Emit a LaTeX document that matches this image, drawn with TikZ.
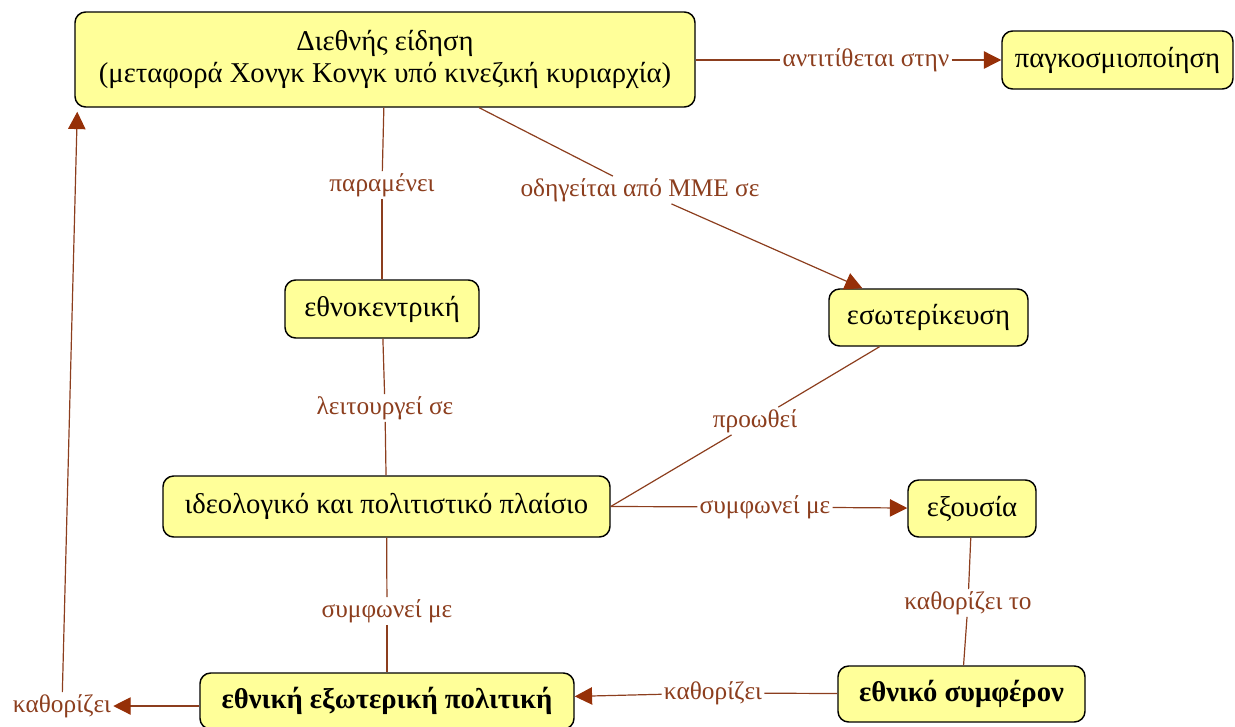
\documentclass[tikz,border=0pt]{standalone}
\usepackage{fontspec}
\setmainfont{Liberation Serif}
\usetikzlibrary{arrows.meta,calc}
\definecolor{boxfill}{RGB}{255,255,153}
\definecolor{linkc}{RGB}{140,62,30}
\definecolor{arrowc}{RGB}{150,48,8}
\tikzset{
  concept/.style={draw=black, line width=1.1pt, fill=boxfill, rounded corners=8pt,
    font=\fontsize{21.5}{23.5}\selectfont, align=center, inner sep=0pt},
  boldconcept/.style={concept, font=\fontsize{21.5}{23.5}\selectfont\bfseries},
  linklabel/.style={text=linkc, font=\fontsize{19}{21}\selectfont, inner sep=1.5pt},
  conn/.style={draw=linkc, line width=0.9pt},
  arr/.style={conn, -{Triangle[length=13pt,width=13pt,fill=arrowc,color=arrowc]}},
}
\begin{document}
\begin{tikzpicture}[x=0.75pt,y=-0.75pt]
\useasboundingbox (0,0) rectangle (1235,726);
% concepts
\node[concept, minimum width=465pt, minimum height=71.25pt] (N1) at (385,59.5) {Διεθνής είδηση\\(μεταφορά Χονγκ Κονγκ υπό κινεζική κυριαρχία)};
\node[concept, minimum width=173.25pt, minimum height=43.5pt] (N2) at (1117.5,60) {παγκοσμιοποίηση};
\node[concept, minimum width=145.5pt, minimum height=43.5pt] (N3) at (382,309) {εθνοκεντρική};
\node[concept, minimum width=149.25pt, minimum height=42.75pt] (N4) at (928.5,317.5) {εσωτερίκευση};
\node[concept, minimum width=335.25pt, minimum height=45.75pt] (N5) at (386.5,506.5) {ιδεολογικό και πολιτιστικό πλαίσιο};
\node[concept, minimum width=96pt, minimum height=42.75pt] (N6) at (972,508.5) {εξουσία};
\node[boldconcept, minimum width=280.5pt, minimum height=42pt] (N7) at (387,701) {εθνική εξωτερική πολιτική};
\node[boldconcept, minimum width=185.25pt, minimum height=42pt] (N8) at (961.5,694) {εθνικό συμφέρον};
% linking phrases
\node[linklabel] (L1) at (866,60) {αντιτίθεται στην};
\node[linklabel] (L2) at (382,185) {παραμένει};
\node[linklabel] (L3) at (640,190) {οδηγείται από ΜΜΕ σε};
\node[linklabel] (L4) at (385,408) {λειτουργεί σε};
\node[linklabel] (L5) at (755,421) {προωθεί};
\node[linklabel] (L6) at (765,507) {συμφωνεί με};
\node[linklabel] (L7) at (968,603) {καθορίζει το};
\node[linklabel] (L8) at (387,611) {συμφωνεί με};
\node[linklabel] (L9) at (713,693) {καθορίζει};
\node[linklabel] (L10) at (62,706) {καθορίζει};
% connectors
\draw[conn] (N1.east |- L1) -- (L1);
\draw[arr] (L1) -- (N2);
\draw[conn] (N1) -- (L2);
\draw[conn] (L2) -- (N3);
\draw[conn] (N1) -- (L3);
\draw[arr] (L3) -- (N4);
\draw[conn] (N3) -- (L4);
\draw[conn] (L4) -- (N5);
\draw[conn] (N4) -- (L5);
\draw[conn] (L5) -- (N5.east);
\draw[conn] (N5.east) -- (L6);
\draw[arr] (L6) -- (N6);
\draw[conn] (N6) -- (L7);
\draw[conn] (L7) -- (N8);
\draw[conn] (N5) -- (L8);
\draw[conn] (L8) -- (N7);
\draw[conn] (N8) -- (L9);
\draw[arr] (L9) -- (N7);
\draw[arr] (N7.west |- L10) -- (L10);
\draw[arr] (L10) -- ($(N1.south west)+(3,4)$);
\end{tikzpicture}
\end{document}
